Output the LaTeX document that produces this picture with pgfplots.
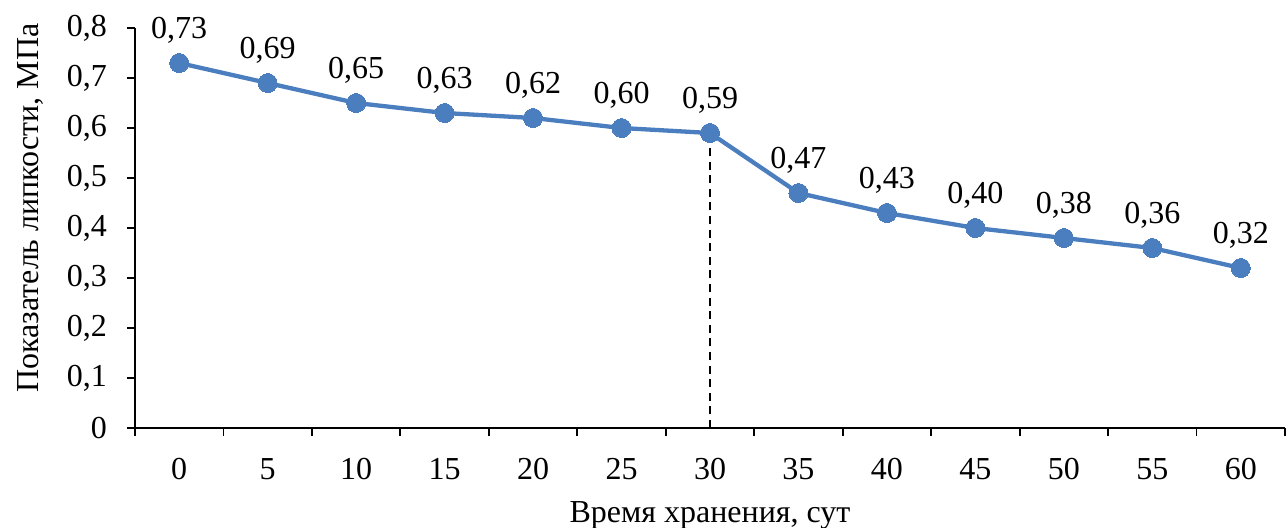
\documentclass[border=0pt]{standalone}
\usepackage{pgfplots}
\pgfplotsset{compat=1.18}
\usepackage{fontspec}
\setmainfont{Liberation Serif}
\definecolor{serie}{RGB}{74,126,190}

\pgfplotstableread{
x  t  v
0  0  0.73
1  5  0.69
2  10 0.65
3  15 0.63
4  20 0.62
5  25 0.60
6  30 0.59
7  35 0.47
8  40 0.43
9  45 0.40
10 50 0.38
11 55 0.36
12 60 0.32
}\adhesion

\begin{document}
\fontsize{16}{19}\selectfont
\begin{tikzpicture}
\begin{axis}[
  scale only axis,
  width=575pt, height=200pt,
  xmin=-0.5, xmax=12.5,
  ymin=0, ymax=0.8,
  axis lines=left,
  axis line style={-, line width=0.9pt},
  tick align=outside,
  xtick={0,...,12},
  xticklabels={0,5,10,15,20,25,30,35,40,45,50,55,60},
  major x tick style={draw=none},
  minor xtick={-0.5,0.5,...,12.5},
  minor tick length=4pt,
  minor x tick style={line width=0.9pt, black},
  ytick={0,0.1,...,0.8},
  major tick length=4pt,
  major y tick style={line width=0.9pt, black},
  /pgf/number format/assume math mode=true,
  yticklabel style={xshift=-4.5pt, /pgf/number format/.cd, use comma, fixed, precision=1},
  xticklabel style={yshift=-5.5pt},
  tick label style={font=\fontsize{16}{19}\selectfont},
  label style={font=\fontsize{16}{19}\selectfont},
  ylabel={Показатель липкости, МПа},
  xlabel={Время хранения, сут},
  ylabel style={at={(axis description cs:-0.0905,0.55)}, anchor=center},
  xlabel style={at={(axis description cs:0.5,-0.235)}, anchor=base},
  clip=false,
]
\addplot[black, line width=0.85pt, dash pattern=on 4pt off 2.8pt, forget plot]
  coordinates {(6,0) (6,0.59)};
\addplot[serie, line width=2.15pt, mark=*, mark size=4.75pt,
  mark options={fill=serie, draw=serie, line width=0pt},
  nodes near coords,
  nodes near coords style={black, anchor=base, yshift=12.5pt,
    font=\fontsize{16}{19}\selectfont,
    /pgf/number format/.cd, use comma, fixed, fixed zerofill, precision=2,
    assume math mode=true},
] table[x=x, y=v] {\adhesion};
\end{axis}
% page frame around the axis
\pgfresetboundingbox
\path ([shift={(-67.5pt,-49.5pt)}]current axis.south west)
  rectangle ([shift={(1pt,14pt)}]current axis.north east);
\end{tikzpicture}
\end{document}
